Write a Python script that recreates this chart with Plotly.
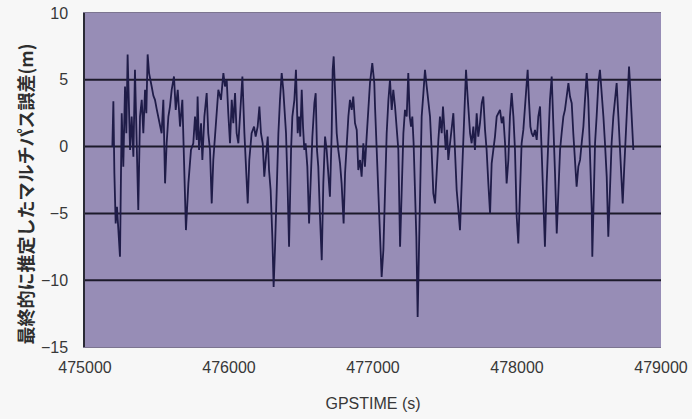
import plotly.graph_objects as go

# GPS time (s) and estimated multipath error (m)
gps_time = [
    475190, 475197, 475204, 475213, 475222, 475232, 475243, 475255, 475266, 475278,
    475287, 475296, 475306, 475313, 475324, 475336, 475347, 475359, 475370, 475382,
    475394, 475405, 475417, 475426, 475435, 475445, 475454, 475463, 475475, 475486,
    475498, 475509, 475521, 475532, 475544, 475556, 475567, 475579, 475590, 475602,
    475618, 475630, 475644, 475660, 475676, 475690, 475701, 475718, 475736, 475752,
    475764, 475776, 475782, 475792, 475806, 475815, 475829, 475845, 475856, 475868,
    475880, 475891, 475903, 475914, 475926, 475944, 475961, 475972, 475984, 475995,
    476007, 476019, 476030, 476042, 476053, 476065, 476076, 476093, 476107, 476118,
    476130, 476141, 476157, 476174, 476185, 476199, 476211, 476222, 476234, 476245,
    476257, 476269, 476278, 476289, 476301, 476310, 476319, 476331, 476343, 476354,
    476366, 476377, 476389,
    476396, 476407, 476417, 476431, 476440, 476454, 476465, 476477, 476486, 476495,
    476505, 476514, 476523, 476532, 476544, 476556, 476567, 476579, 476593, 476602,
    476611, 476620, 476632, 476644, 476655, 476667, 476678, 476690, 476701, 476713,
    476720, 476727, 476736, 476748, 476759, 476771, 476782, 476796, 476806, 476817,
    476829, 476840, 476852, 476863, 476875, 476887, 476898, 476910, 476921, 476933,
    476944, 476956, 476968, 476979, 476995, 477009,
    477014, 477026, 477037, 477049, 477060, 477072, 477083, 477095, 477107, 477118,
    477130, 477141, 477153, 477164, 477176, 477188, 477199, 477211, 477222, 477234,
    477245, 477255, 477264, 477273, 477282, 477292, 477301, 477310, 477319, 477329,
    477338, 477350, 477361, 477373, 477384, 477396, 477407, 477419, 477431, 477442,
    477454, 477465, 477477, 477486, 477495, 477505, 477514, 477523, 477535, 477546,
    477558, 477569, 477581, 477593, 477604, 477616, 477627, 477639,
    477646, 477657, 477667, 477674, 477685, 477697, 477708, 477720, 477731, 477743,
    477755, 477766, 477778, 477789, 477801, 477813, 477824, 477836, 477847, 477859,
    477870, 477882, 477894, 477905, 477917, 477928, 477940, 477951, 477963, 477975,
    477986, 477998, 478009, 478021, 478032, 478044, 478056, 478067, 478074, 478083,
    478093, 478102, 478113, 478125, 478137, 478148, 478160, 478171, 478183, 478194,
    478206, 478218, 478229, 478241, 478252,
    478264, 478276, 478287, 478299, 478310, 478322, 478333, 478345, 478357, 478368,
    478380, 478391, 478403, 478414, 478426, 478438, 478449, 478461, 478472, 478484,
    478495, 478507, 478519, 478523, 478532, 478542, 478553, 478565, 478576, 478588,
    478600, 478611, 478623, 478634, 478646, 478657, 478669, 478681, 478692, 478704,
    478715, 478727, 478734, 478745, 478757, 478769, 478778, 478787, 478796, 478808,
]

multipath_error = [
    0.0, 3.4, -2.0, -5.75, -4.5, -6.5, -8.25, 2.5, -1.5, 4.5,
    1.0, 6.9, 2.0, -0.25, 2.25, -0.75, 5.75, 1.0, -4.75, 2.25,
    3.5, 1.0, 4.25, 2.5, 6.9, 5.5, 4.8, 4.5, 3.8, 3.5,
    2.8, 2.25, 1.5, 1.0, 3.5, -2.75, 0.25, 2.25, 3.0, 4.25,
    5.25, 2.75, 4.25, 1.5, 3.5, -2.25, -6.25, -2.75, -0.25, 0.25,
    2.25, 0.5, 3.75, -0.25, 1.75, -1.0, 2.25, 4.0, 1.0, -0.25,
    -4.25, -1.0, 1.0, 2.25, 4.25, 3.5, 5.5, 4.5, 5.0, 2.5,
    0.25, 3.5, 1.75, 4.0, 1.0, 0.25, 2.25, 5.25, 1.0, -1.5,
    -4.25, -1.0, 1.0, 1.5, 0.75, 1.5, 3.0, 1.0, 0.25, -2.25,
    -0.75, 0.75, -1.75, -3.25, -6.75, -10.5, -7.75, -2.25, 1.0, 3.5,
    5.5, 4.25, 2.25,
    1.0, -3.0, -7.5, -0.25, 2.25, 3.5, 5.75, 1.0, 2.25, 0.75,
    4.25, 1.5, -0.25, 0.25, -1.5, -5.75, -2.25, 0.75, 3.25, 4.0,
    -0.25, -1.5, -5.25, -8.5, -2.75, 0.75, -0.25, -2.0, -3.75, 1.0,
    5.75, 6.75, 4.25, 1.0, -0.25, -1.25, -2.75, -5.75, -2.0, 0.25,
    2.25, 3.5, 2.75, 3.75, 1.75, 1.25, -1.75, -1.0, -2.25, 0.25,
    -1.5, 0.75, 2.75, 4.75, 6.25, 4.75,
    3.0, -0.25, -3.25, -7.75, -9.75, -7.75, -2.75, 1.0, 3.5, 5.0,
    2.75, 4.25, 3.0, 1.0, -0.25, -7.5, -2.75, 1.0, 2.75, 2.25,
    5.5, 2.25, 1.5, 2.25, 0.25, -2.75, -6.75, -12.75, -7.75, -0.25,
    2.25, 4.0, 5.75, 4.5, 3.5, 2.25, -0.25, -3.5, -4.25, -1.5,
    0.5, 2.25, 1.0, 3.0, 1.0, -0.25, 1.25, -1.0, 0.25, 1.25,
    2.5, -0.25, -3.25, -4.75, -6.25, -2.75, 1.0, 3.5,
    5.75, 3.75, 2.25, 1.0, 0.25, 1.5, -0.25, 2.5, 0.75, 1.75,
    3.25, 3.75, 1.25, -0.25, -2.75, -5.0, -1.25, -0.25, 0.75, 2.25,
    2.5, 2.75, 1.75, 2.25, 0.25, -2.75, -1.0, 2.25, 4.0, 2.25,
    -0.25, -5.25, -7.25, -2.75, 0.25, 1.25, 3.0, 4.75, 5.75, 3.5,
    1.5, 1.0, 0.75, 1.25, 0.5, 2.25, 3.0, -0.25, -3.75, -7.5,
    -2.75, 1.0, 3.5, 5.25, 2.25,
    -2.0, -6.5, -2.75, -0.25, 1.0, 2.25, 2.75, 4.0, 4.75, 3.75,
    3.25, 1.0, -1.5, -3.0, -1.5, -1.0, 0.25, 1.5, 3.5, 5.5,
    3.5, -0.25, -4.75, -8.25, -4.0, 0.25, 2.25, 4.75, 5.75, 4.25,
    2.25, 0.25, -2.25, -6.75, -2.75, 0.25, 2.25, 3.5, 4.75, 2.25,
    -0.25, -3.75, -4.25, -1.5, 1.0, 3.5, 6.0, 4.25, 2.25, -0.25,
]

x_ticks = [475000, 476000, 477000, 478000, 479000]
y_ticks = [-15, -10, -5, 0, 5, 10]
grid_levels = [-10, -5, 0, 5]

y_title = "最終的に推定したマルチパス誤差(m)"
x_title = "GPSTIME (s)"


def tick_text(v):
    return "\u2212" + str(-v) if v < 0 else str(v)


fig = go.Figure()
fig.add_trace(go.Scatter(
    x=gps_time, y=multipath_error, mode="lines",
    line=dict(color="#1f1c48", width=1.8),
    hoverinfo="skip", showlegend=False,
))

# horizontal reference lines inside the plotting area
for lvl in grid_levels:
    fig.add_shape(type="line", xref="paper", x0=0, x1=1, yref="y", y0=lvl, y1=lvl,
                  line=dict(color="#1c1a2a", width=2), layer="below")

label_font = dict(family="Liberation Sans, Arial, sans-serif", size=16, color="#383838")

fig.update_layout(
    width=692, height=419,
    margin=dict(l=85, r=31, t=13, b=72),
    paper_bgcolor="#f7f7f7",
    plot_bgcolor="#978db6",
    xaxis=dict(
        range=[475000, 479000], tickvals=x_ticks,
        ticktext=[str(v) for v in x_ticks],
        showgrid=False, zeroline=False, automargin=False,
        showline=True, linecolor="#7c7590", linewidth=1, mirror=True,
        ticks="", tickfont=label_font, ticklabelstandoff=6,
        title=dict(text=x_title, font=label_font, standoff=22),
    ),
    yaxis=dict(
        range=[-15, 10], tickvals=y_ticks,
        ticktext=[tick_text(v) for v in y_ticks],
        showgrid=False, zeroline=False, automargin=False,
        showline=True, linecolor="#2a2a35", linewidth=1.5,
        ticks="", tickfont=label_font, ticklabelstandoff=12,
    ),
    annotations=[dict(
        text=y_title, textangle=-90, xref="paper", yref="paper",
        x=-0.104, y=0.457, xanchor="center", yanchor="middle", showarrow=False,
        font=dict(family="Noto Sans CJK JP", size=18, color="#2e2e2e", weight="bold"),
    )],
)

fig.write_html("out.html")
